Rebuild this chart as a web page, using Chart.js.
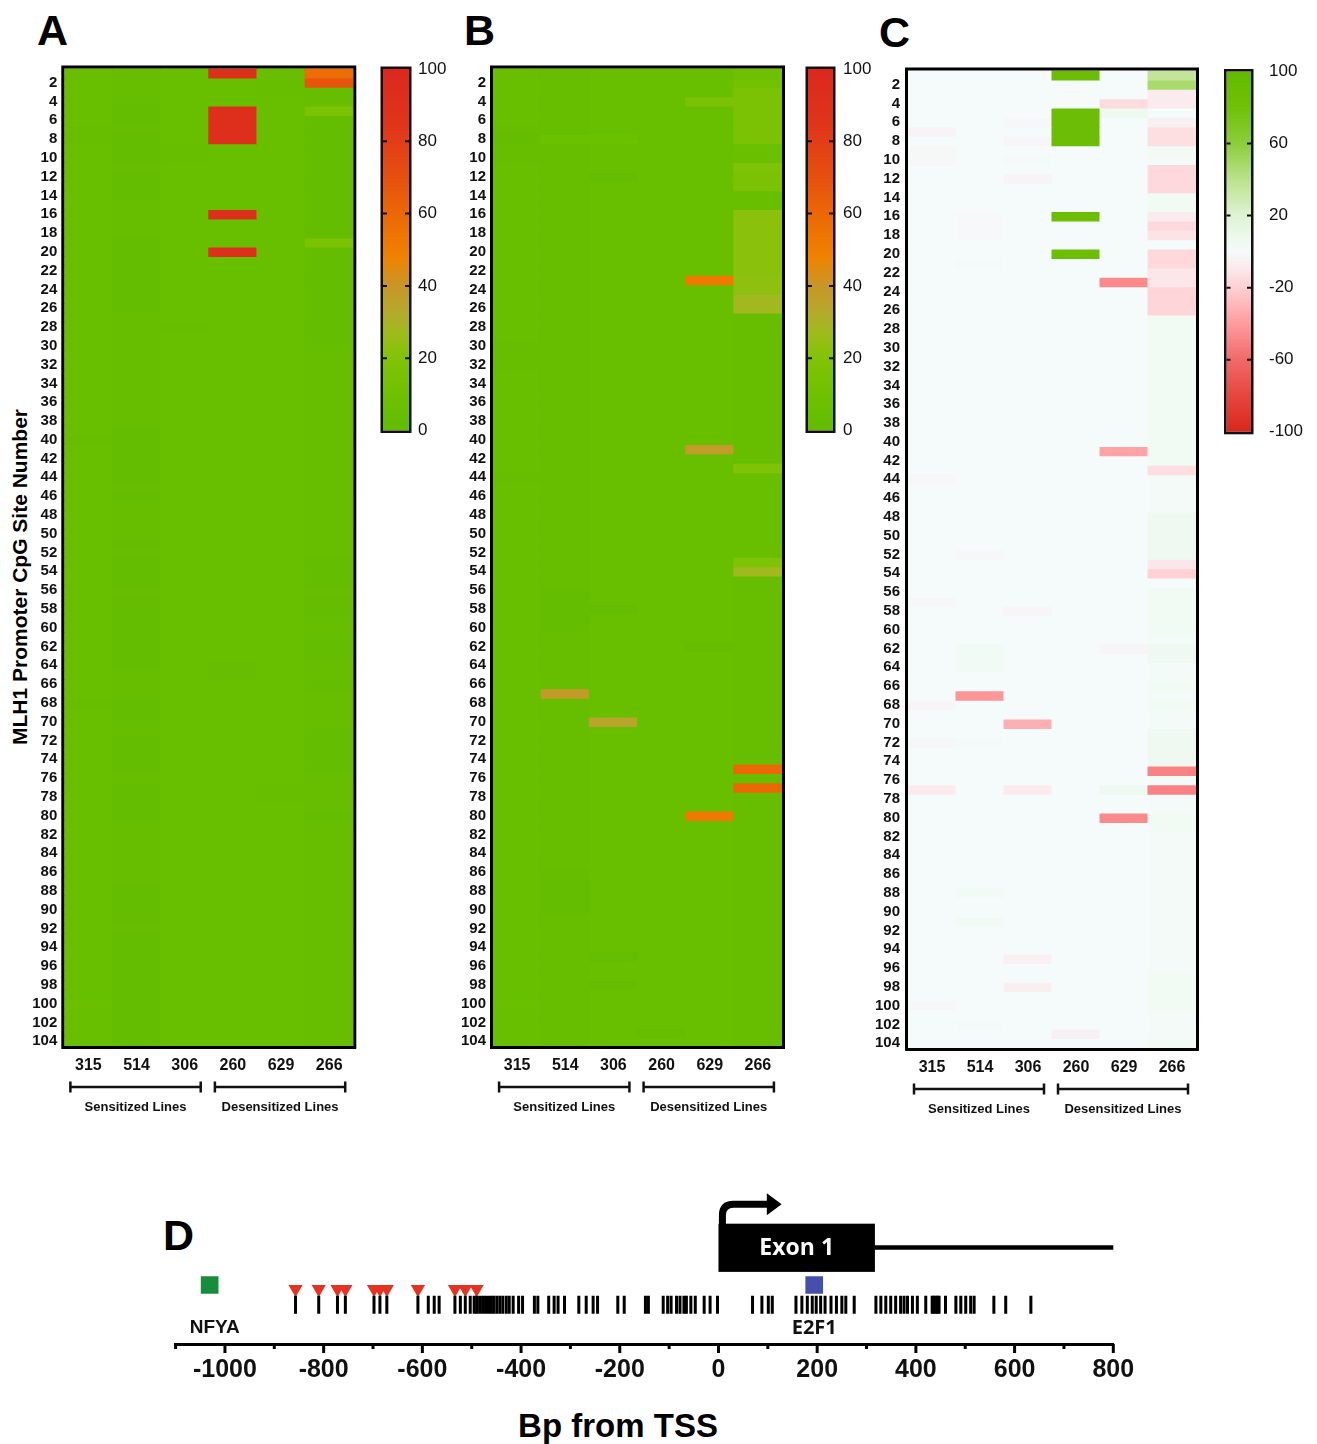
<!DOCTYPE html>
<html>
<head>
<meta charset="utf-8">
<script src="https://cdn.jsdelivr.net/npm/chart.js@4.4.0/dist/chart.umd.min.js"></script>
<style>
  body { margin: 0; background: #fff; }
  #fig { position: relative; width: 1317px; height: 1444px; overflow: hidden; font-family: "Liberation Sans", Arial, sans-serif; color: #000; }
  canvas { position: absolute; }
  .letter { position: absolute; font-weight: bold; font-size: 43px; line-height: 1; }
  .ytitle { position: absolute; left: 20px; top: 577px; transform: translate(-50%, -50%) rotate(-90deg); white-space: nowrap; font-weight: bold; font-size: 21px; }
  .xtitle { position: absolute; left: 618px; top: 1426px; transform: translate(-50%, -50%); white-space: nowrap; font-weight: bold; font-size: 33px; }
</style>
</head>
<body>
<div id="fig">
  <div class="letter" style="left:37px;top:9px">A</div>
  <div class="letter" style="left:464px;top:9px">B</div>
  <div class="letter" style="left:879px;top:11px">C</div>
  <div class="letter" style="left:163px;top:1214px">D</div>
  <div class="ytitle">MLH1 Promoter CpG Site Number</div>
  <div class="xtitle">Bp from TSS</div>

  <canvas id="heatA" width="372" height="1130" style="left:0;top:0"></canvas>
  <canvas id="barA" width="95" height="420" style="left:375px;top:40px"></canvas>
  <canvas id="heatB" width="352" height="1130" style="left:440px;top:0"></canvas>
  <canvas id="barB" width="95" height="420" style="left:800px;top:40px"></canvas>
  <canvas id="heatC" width="350" height="1132" style="left:860px;top:0"></canvas>
  <canvas id="barC" width="99" height="420" style="left:1218px;top:40px"></canvas>
  <canvas id="genome" width="1010" height="264" style="left:150px;top:1180px"></canvas>
</div>

<script>
// ---- heatmap categories / ticks ----
const lineNames = ['315', '514', '306', '260', '629', '266'];
const lineGroups = ['Sensitized Lines', 'Desensitized Lines'];
const siteTicks = [2, 4, 6, 8, 10, 12, 14, 16, 18, 20, 22, 24, 26, 28, 30, 32, 34, 36, 38, 40,
  42, 44, 46, 48, 50, 52, 54, 56, 58, 60, 62, 64, 66, 68, 70, 72, 74, 76, 78, 80,
  82, 84, 86, 88, 90, 92, 94, 96, 98, 100, 102, 104];
const methTicks = [0, 20, 40, 60, 80, 100];
const diffTicks = [-100, -60, -20, 20, 60, 100];

// ---- panel A: % methylation, CpG sites 1..104 ----
const a315 = [
  5, 5, 5, 5, 5, 5, 4, 4, 5, 5,
  5, 5, 5, 5, 5, 5, 5, 5, 5, 5,
  5, 5, 5, 5, 5, 5, 5, 5, 5, 5,
  5, 5, 5, 5, 5, 5, 5, 5, 5, 4,
  5, 5, 5, 5, 5, 5, 5, 5, 5, 5,
  5, 5, 5, 5, 5, 5, 5, 5, 5, 5,
  5, 5, 5, 5, 5, 5, 5, 4, 5, 5,
  5, 5, 5, 5, 5, 5, 5, 5, 5, 5,
  5, 5, 5, 5, 5, 5, 5, 5, 5, 5,
  5, 5, 5, 5, 5, 5, 5, 5, 5, 6,
  5, 5, 5, 5];
const a514 = [
  4, 4, 4, 2, 2, 2, 4, 2, 2, 2,
  4, 2, 2, 2, 4, 4, 4, 4, 2, 2,
  2, 2, 2, 2, 2, 2, 4, 4, 4, 4,
  4, 4, 4, 4, 4, 4, 4, 4, 2, 2,
  2, 2, 2, 2, 4, 2, 4, 4, 4, 4,
  2, 4, 2, 2, 2, 4, 2, 2, 2, 2,
  2, 2, 2, 2, 4, 4, 4, 2, 2, 2,
  4, 2, 2, 2, 2, 4, 2, 2, 2, 2,
  4, 4, 4, 4, 4, 4, 4, 2, 2, 2,
  2, 4, 3, 3, 3, 3, 3, 3, 3, 3,
  3, 3, 3, 3];
const a306 = [
  5, 5, 5, 5, 5, 5, 5, 5, 4, 4,
  5, 5, 5, 5, 5, 5, 5, 5, 5, 5,
  5, 5, 5, 5, 5, 5, 5, 4, 5, 5,
  5, 5, 5, 5, 5, 5, 5, 5, 5, 5,
  5, 5, 5, 5, 5, 5, 5, 5, 5, 5,
  5, 5, 5, 5, 5, 5, 5, 5, 5, 5,
  5, 5, 5, 5, 5, 5, 5, 5, 5, 5,
  5, 5, 5, 5, 5, 5, 5, 5, 5, 5,
  5, 5, 5, 5, 5, 5, 5, 5, 5, 5,
  5, 5, 5, 5, 5, 5, 5, 5, 5, 5,
  5, 5, 5, 5];
const a260 = [
  92, 5, 5, 5, 92, 92, 92, 92, 5, 5,
  5, 5, 5, 5, 5, 92, 5, 5, 5, 92,
  5, 5, 5, 5, 5, 5, 5, 5, 5, 5,
  5, 5, 5, 5, 5, 5, 5, 5, 5, 5,
  5, 5, 5, 5, 5, 5, 5, 5, 5, 5,
  5, 5, 5, 5, 5, 5, 5, 5, 5, 5,
  5, 5, 5, 4, 4, 5, 5, 5, 5, 5,
  5, 5, 5, 5, 5, 5, 5, 5, 5, 5,
  5, 5, 5, 5, 5, 5, 5, 5, 5, 5,
  5, 5, 5, 5, 5, 5, 5, 5, 5, 5,
  5, 5, 5, 5];
const a629 = [
  5, 4, 4, 5, 5, 5, 5, 5, 5, 5,
  5, 5, 5, 5, 5, 5, 5, 5, 5, 5,
  5, 5, 5, 5, 5, 5, 5, 5, 5, 5,
  5, 5, 5, 5, 5, 5, 5, 5, 5, 5,
  5, 5, 5, 5, 5, 5, 5, 5, 5, 5,
  5, 5, 5, 5, 5, 5, 5, 5, 5, 5,
  5, 5, 5, 5, 5, 5, 5, 5, 5, 5,
  5, 5, 5, 5, 5, 5, 4, 4, 5, 5,
  5, 5, 5, 5, 5, 5, 5, 5, 5, 5,
  5, 5, 5, 5, 5, 5, 5, 5, 5, 5,
  5, 5, 5, 5];
const a266 = [
  58, 68, 4, 4, 17, 3, 3, 3, 3, 3,
  3, 3, 3, 3, 3, 3, 3, 3, 17, 3,
  3, 3, 3, 3, 3, 3, 3, 3, 3, 3,
  4, 4, 4, 4, 4, 4, 4, 4, 4, 4,
  4, 4, 4, 4, 4, 4, 4, 4, 4, 4,
  4, 4, 2, 2, 2, 4, 2, 2, 2, 4,
  2, 2, 2, 4, 4, 2, 4, 4, 4, 4,
  2, 2, 2, 2, 2, 4, 4, 4, 4, 2,
  4, 4, 4, 4, 4, 4, 4, 4, 4, 4,
  4, 4, 4, 4, 4, 4, 4, 4, 4, 4,
  4, 4, 4, 4];

// ---- panel B: % methylation ----
const b315 = [
  5, 5, 5, 5, 5, 5, 4, 3, 4, 4,
  5, 5, 5, 5, 5, 5, 5, 5, 5, 5,
  5, 5, 5, 5, 5, 5, 5, 5, 5, 4,
  4, 4, 5, 5, 5, 5, 5, 5, 5, 5,
  5, 5, 5, 4, 5, 5, 5, 5, 5, 5,
  5, 5, 5, 5, 5, 5, 5, 5, 5, 5,
  5, 5, 5, 5, 5, 5, 5, 5, 5, 5,
  5, 5, 5, 5, 5, 5, 5, 5, 5, 5,
  5, 5, 5, 5, 5, 5, 5, 5, 5, 5,
  5, 5, 5, 5, 5, 5, 5, 5, 5, 6,
  5, 5, 5, 5];
const b514 = [
  4, 4, 4, 4, 4, 4, 4, 7, 4, 4,
  4, 4, 4, 4, 4, 4, 4, 4, 4, 4,
  4, 4, 4, 4, 4, 4, 4, 4, 4, 4,
  4, 4, 4, 4, 4, 4, 4, 4, 4, 4,
  4, 4, 4, 4, 4, 4, 4, 4, 4, 4,
  4, 4, 4, 4, 4, 3, 3, 3, 3, 3,
  4, 4, 4, 4, 4, 4, 38, 4, 4, 4,
  4, 4, 4, 4, 4, 4, 4, 4, 4, 4,
  4, 4, 4, 4, 4, 3, 3, 3, 3, 3,
  4, 4, 4, 4, 4, 4, 4, 4, 4, 4,
  4, 4, 4, 4];
const b306 = [
  5, 5, 5, 5, 5, 5, 5, 7, 5, 5,
  5, 2, 5, 5, 5, 5, 5, 5, 5, 5,
  5, 5, 5, 5, 5, 5, 5, 5, 5, 5,
  5, 5, 5, 5, 5, 5, 5, 5, 5, 5,
  5, 5, 5, 5, 5, 5, 5, 5, 5, 5,
  5, 5, 5, 5, 5, 5, 5, 2, 5, 5,
  5, 5, 5, 5, 5, 5, 5, 5, 5, 34,
  5, 5, 5, 5, 5, 5, 5, 5, 5, 5,
  5, 5, 5, 5, 5, 5, 5, 5, 5, 5,
  5, 5, 5, 5, 2, 5, 5, 2, 5, 5,
  5, 5, 5, 5];
const b260 = [
  5, 5, 5, 5, 5, 5, 5, 5, 5, 5,
  5, 5, 5, 5, 5, 5, 5, 5, 5, 5,
  5, 5, 5, 5, 5, 5, 5, 5, 5, 5,
  5, 5, 5, 5, 5, 5, 5, 5, 5, 5,
  5, 5, 5, 5, 5, 5, 5, 5, 5, 5,
  5, 5, 5, 5, 5, 5, 5, 5, 5, 5,
  5, 5, 5, 5, 5, 5, 5, 5, 5, 5,
  5, 5, 5, 5, 5, 5, 5, 5, 5, 5,
  5, 5, 5, 5, 5, 5, 5, 5, 5, 5,
  5, 5, 5, 5, 5, 5, 5, 5, 5, 5,
  5, 5, 3, 5];
const b629 = [
  5, 5, 5, 17, 5, 5, 5, 5, 5, 5,
  5, 5, 5, 5, 5, 5, 5, 5, 5, 5,
  5, 5, 52, 5, 5, 5, 5, 5, 5, 5,
  5, 5, 5, 5, 5, 5, 5, 5, 5, 5,
  38, 5, 5, 5, 5, 5, 5, 5, 5, 5,
  5, 5, 5, 5, 5, 5, 5, 5, 5, 5,
  5, 2, 5, 5, 5, 5, 5, 5, 5, 5,
  5, 5, 5, 5, 5, 5, 5, 5, 5, 52,
  5, 5, 5, 5, 5, 5, 5, 5, 5, 5,
  5, 5, 5, 5, 5, 5, 5, 5, 5, 5,
  5, 5, 5, 5];
const b266 = [
  9, 11, 17, 17, 17, 17, 17, 17, 6, 6,
  18, 17, 17, 5, 5, 22, 22, 22, 22, 22,
  22, 22, 23, 23, 28, 28, 4, 4, 4, 4,
  4, 4, 4, 4, 4, 4, 4, 4, 4, 4,
  4, 4, 18, 5, 5, 5, 5, 5, 5, 5,
  5, 5, 18, 28, 4, 4, 4, 4, 4, 4,
  4, 4, 4, 4, 4, 4, 4, 4, 4, 4,
  4, 4, 4, 4, 60, 4, 60, 4, 4, 4,
  4, 4, 4, 4, 4, 4, 4, 4, 4, 4,
  4, 4, 4, 4, 4, 4, 4, 4, 4, 4,
  4, 4, 4, 4];

// ---- panel C: difference in % methylation ----
const c315 = [
  0, 0, 0, 0, 0, 0, -4, 0, -2, -2,
  0, 0, 0, 0, 0, 0, 0, 0, 0, 0,
  0, 0, 0, 0, 0, 0, 0, 0, 0, 0,
  0, 0, 0, 0, 0, 0, 0, 0, 0, 0,
  0, 0, 0, -2, 0, 0, 0, 0, 0, 0,
  0, 0, 0, 0, 0, 0, -2, 0, 0, 0,
  0, 0, 0, 0, 0, 0, 0, -3, 0, 0,
  0, -2, 0, 0, 0, 0, -8, 0, 0, 0,
  0, 0, 0, 0, 0, 0, 0, 0, 0, 0,
  0, 0, 0, 0, 0, 0, 0, 0, 0, -2,
  0, 0, 0, 0];
const c514 = [
  0, 0, 0, 0, 0, 0, 0, 0, 0, 0,
  0, 0, 0, 0, 0, -1, -1, -1, 0, 0,
  1, 0, 0, 0, 0, 0, 0, 0, 0, 0,
  0, 0, 0, 0, 0, 0, 0, 0, 0, 0,
  0, 0, 0, 0, 0, 0, 0, 0, 0, 0,
  0, -2, 0, 0, 0, 0, 0, 0, 0, 0,
  0, 3, 3, 3, 0, 0, -42, 0, 0, 0,
  0, 2, 0, 0, 0, 0, 0, 0, 0, 0,
  0, 0, 0, 0, 0, 0, 0, 3, 0, 0,
  3, 0, 0, 0, 0, 0, 0, 0, 0, 0,
  0, 2, 0, 0];
const c306 = [
  0, 0, 0, 0, 0, -2, 0, -3, 0, 2,
  0, -4, 0, 0, 0, 0, 0, 0, 0, 0,
  0, 0, 0, 0, 0, 0, 0, 0, 0, 0,
  0, 0, 0, 0, 0, 0, 0, 0, 0, 0,
  0, 0, 0, 0, 0, 0, 0, 0, 0, 0,
  0, 0, 0, 0, 0, 0, 0, -3, 0, 0,
  0, 0, 0, 0, 0, 0, 0, 0, 0, -33,
  0, 0, 0, 0, 0, 0, -8, 0, 0, 0,
  0, 0, 0, 0, 0, 0, 0, 0, 0, 0,
  0, 0, 0, 0, -6, 0, 0, -7, 0, 0,
  0, 0, 0, 0];
const c260 = [
  88, 0, 0, 0, 88, 88, 88, 88, 0, 0,
  0, 0, 0, 0, 0, 88, 0, 0, 0, 88,
  0, 0, 0, 0, 0, 0, 0, 0, 0, 0,
  0, 0, 0, 0, 0, 0, 0, 0, 0, 0,
  0, 0, 0, 0, 0, 0, 0, 0, 0, 0,
  0, 0, 0, 0, 0, 0, 0, 0, 0, 0,
  0, 0, 0, 0, 0, 0, 0, 0, 0, 0,
  0, 0, 0, 0, 0, 0, 0, 0, 0, 0,
  0, 0, 0, 0, 0, 0, 0, 0, 0, 0,
  0, 0, 0, 0, 0, 0, 0, 0, 0, 0,
  0, 0, -5, 0];
const c629 = [
  0, 0, 0, -15, 6, 0, 0, 0, 0, 0,
  0, 0, 0, 0, 0, 0, 0, 0, 0, 0,
  0, 0, -47, 0, 0, 0, 0, 0, 0, 0,
  0, 0, 0, 0, 0, 0, 0, 0, 0, 0,
  -37, 0, 0, 0, 0, 0, 0, 0, 0, 0,
  0, 0, 0, 0, 0, 0, 0, 0, 0, 0,
  0, -3, 0, 0, 0, 0, 0, 0, 0, 0,
  0, 0, 0, 0, 0, 0, 5, 0, 0, -47,
  0, 0, 0, 0, 0, 0, 0, 0, 0, 0,
  0, 0, 0, 0, 0, 0, 0, 0, 0, 0,
  0, 0, 0, 0];
const c266 = [
  36, 48, -8, -8, 0, -6, -14, -14, 4, 2,
  -16, -16, -16, 4, 4, -8, -16, -12, 0, -16,
  -16, -10, -10, -18, -18, -18, 4, 4, 4, 4,
  4, 4, 4, 4, 4, 4, 4, 4, 4, 4,
  4, 4, -14, 2, 2, 2, 2, 5, 5, 5,
  5, 5, -10, -20, 0, 4, 4, 4, 4, 4,
  1, 5, 5, 1, 1, 4, 1, 4, 1, 1,
  5, 5, 5, 5, -50, 1, -50, 1, 1, 4,
  4, 1, 1, 1, 1, 1, 1, 1, 1, 1,
  1, 1, 1, 1, 1, 1, 4, 4, 4, 4,
  1, 1, 1, 4];

// ---- panel D: positions in bp from TSS ----
const cpgSites = [-857, -810, -772, -756, -698, -686, -672, -609, -588, -576, -566,
  -534, -523, -513, -503, -495, -490, -484, -478, -472, -466, -460, -455, -449, -443,
  -437, -430, -424, -416, -405, -397, -373, -366, -344, -333, -325, -312, -283, -268,
  -254, -245, -204, -191, -148, -142, -112, -103, -96, -85, -78, -70, -65, -56, -47,
  -29, -17, -2, 69, 88, 101, 109, 157, 169, 180, 190, 198, 207, 216, 228, 239, 250,
  258, 275, 319, 329, 339, 349, 359, 369, 376, 383, 393, 403, 420, 433, 436, 440,
  444, 447, 460, 481, 491, 501, 511, 518, 558, 582, 633];
const markedSites = [-857, -810, -772, -756, -698, -686, -672, -609, -534, -513, -490];
const nfyaSite = -1031;
const e2f1Site = 194;
const exonStart = 0;
const exonEnd = 317;
const geneEnd = 800;
const bpTicks = [-1000, -800, -600, -400, -200, 0, 200, 400, 600, 800];

// ---- colour ramps ----
const methStops = [[0, [97, 187, 0]], [5, [104, 191, 0]], [12, [114, 193, 0]], [20, [130, 195, 6]],
  [27, [158, 187, 28]], [33, [182, 168, 44]], [40, [200, 150, 40]], [48, [240, 130, 0]],
  [58, [237, 108, 4]], [70, [230, 80, 15]], [85, [223, 52, 26]], [100, [220, 40, 30]]];
const diffStops = [[-100, [218, 38, 28]], [-80, [230, 70, 62]], [-60, [242, 105, 105]],
  [-40, [255, 155, 158]], [-20, [255, 208, 212]], [-8, [250, 236, 238]], [0, [245, 250, 250]],
  [8, [236, 249, 236]], [20, [222, 243, 212]], [40, [188, 226, 140]], [60, [140, 205, 60]],
  [80, [112, 193, 8]], [100, [100, 186, 0]]];

function ramp(stops, v) {
  for (let i = 1; i < stops.length; i++) {
    if (v <= stops[i][0] || i === stops.length - 1) {
      const [v0, c0] = stops[i - 1];
      const [v1, c1] = stops[i];
      const t = Math.max(0, Math.min(1, (v - v0) / (v1 - v0)));
      return 'rgb(' + c0.map((c, k) => Math.round(c + (c1[k] - c) * t)).join(',') + ')';
    }
  }
}

const FONT = "'Liberation Sans', Arial, sans-serif";
Chart.defaults.font.family = FONT;
Chart.defaults.color = '#000';

const framePlugin = {
  id: 'frame',
  afterDatasetsDraw(chart) {
    const { ctx, chartArea: a } = chart;
    ctx.save();
    ctx.strokeStyle = '#000';
    ctx.lineWidth = 3;
    ctx.strokeRect(a.left - 1.5, a.top - 1.5, a.width + 3, a.height + 3);
    ctx.restore();
  }
};

const bracketPlugin = {
  id: 'brackets',
  afterDraw(chart) {
    const x = chart.scales.x;
    const ctx = chart.ctx;
    const yb = chart.chartArea.bottom + 41;
    ctx.save();
    ctx.strokeStyle = '#111';
    ctx.fillStyle = '#111';
    ctx.lineWidth = 2.5;
    ctx.font = 'bold 13px ' + FONT;
    ctx.textAlign = 'center';
    ctx.textBaseline = 'middle';
    lineGroups.forEach((name, g) => {
      const l = x.getPixelForValue(g * 3) - 18;
      const r = x.getPixelForValue(g * 3 + 2) + 16;
      ctx.beginPath();
      ctx.moveTo(l, yb); ctx.lineTo(r, yb);
      ctx.moveTo(l, yb - 5.5); ctx.lineTo(l, yb + 5.5);
      ctx.moveTo(r, yb - 5.5); ctx.lineTo(r, yb + 5.5);
      ctx.stroke();
      ctx.fillText(name, (l + r) / 2, yb + 20);
    });
    ctx.restore();
  }
};

function heatmap(id, cols, stops, box) {
  const sites = cols[0].map((v, i) => i + 1);
  const datasets = sites.map((s, r) => ({
    data: cols.map(() => [s - 0.5, s + 0.5]),
    backgroundColor: cols.map(c => ramp(stops, c[r]))
  }));
  return new Chart(document.getElementById(id), {
    type: 'bar',
    data: { labels: lineNames, datasets },
    options: {
      responsive: false,
      animation: false,
      events: [],
      layout: { padding: { left: 0, right: box.right, top: box.top, bottom: 0 } },
      plugins: { legend: { display: false }, tooltip: { enabled: false } },
      datasets: { bar: { grouped: false, barPercentage: 1, categoryPercentage: 1, borderWidth: 0, inflateAmount: 0.5 } },
      scales: {
        x: {
          grid: { display: false, drawTicks: false },
          border: { display: false },
          ticks: { font: { size: 16, weight: 'bold' }, color: '#111', padding: 10 },
          afterFit: s => { s.height = 84; }
        },
        y: {
          type: 'linear', min: 0.5, max: 104.5, reverse: true,
          grid: { display: false, drawTicks: false },
          border: { display: false },
          afterBuildTicks: s => { s.ticks = siteTicks.map(v => ({ value: v })); },
          ticks: { font: { size: 15, weight: 'bold' }, color: '#111', padding: box.labelPad, autoSkip: false },
          afterFit: s => { s.width = box.yWidth; }
        }
      }
    },
    plugins: [framePlugin, bracketPlugin]
  });
}

const barFramePlugin = {
  id: 'barFrame',
  afterDatasetsDraw(chart) {
    const { ctx, chartArea: a } = chart;
    const y = chart.scales.y;
    ctx.save();
    ctx.strokeStyle = '#111';
    ctx.lineWidth = 2.5;
    ctx.strokeRect(a.left - 1.25, a.top - 1.25, a.width + 2.5, a.height + 2.5);
    ctx.lineWidth = 2;
    y.ticks.forEach(t => {
      if (t.value === y.min || t.value === y.max) return;
      const py = y.getPixelForValue(t.value);
      ctx.beginPath();
      ctx.moveTo(a.left, py); ctx.lineTo(a.left + 4, py);
      ctx.moveTo(a.right - 4, py); ctx.lineTo(a.right, py);
      ctx.stroke();
    });
    ctx.restore();
  }
};

function colorBar(id, stops, ticks, box) {
  const lo = ticks[0], hi = ticks[ticks.length - 1];
  return new Chart(document.getElementById(id), {
    type: 'bar',
    data: {
      labels: [''],
      datasets: [{
        data: [[lo, hi]],
        borderWidth: 0,
        barPercentage: 1,
        categoryPercentage: 1,
        backgroundColor: c => {
          const chart = c.chart;
          if (!chart.chartArea) return null;
          const y = chart.scales.y;
          const g = chart.ctx.createLinearGradient(0, y.getPixelForValue(lo), 0, y.getPixelForValue(hi));
          stops.forEach(([v, rgb]) => g.addColorStop((v - lo) / (hi - lo), 'rgb(' + rgb.join(',') + ')'));
          return g;
        }
      }]
    },
    options: {
      responsive: false,
      animation: false,
      events: [],
      layout: { padding: { left: box.left, right: 0, top: box.top, bottom: box.bottom } },
      plugins: { legend: { display: false }, tooltip: { enabled: false } },
      scales: {
        x: { display: false },
        y: {
          position: 'right', min: lo, max: hi,
          grid: { display: false, drawTicks: false },
          border: { display: false },
          afterBuildTicks: s => { s.ticks = ticks.map(v => ({ value: v })); },
          ticks: { font: { size: 17 }, color: '#111', padding: box.labelPad, callback: v => String(v) },
          afterFit: s => { s.width = box.yWidth; }
        }
      }
    },
    plugins: [barFramePlugin]
  });
}

heatmap('heatA', [a315, a514, a306, a260, a629, a266], methStops, { top: 68.5, right: 18.7, yWidth: 64.3, labelPad: 7 });
heatmap('heatB', [b315, b514, b306, b260, b629, b266], methStops, { top: 68.5, right: 10, yWidth: 53, labelPad: 7 });
heatmap('heatC', [c315, c514, c306, c260, c629, c266], diffStops, { top: 70.5, right: 14, yWidth: 48, labelPad: 8 });

colorBar('barA', methStops, methTicks, { left: 8, top: 29, bottom: 29.5, yWidth: 61, labelPad: 9 });
colorBar('barB', methStops, methTicks, { left: 8, top: 29, bottom: 29.5, yWidth: 62, labelPad: 10 });
colorBar('barC', diffStops, diffTicks, { left: 8.5, top: 31.5, bottom: 28, yWidth: 66, labelPad: 18 });

// ---- panel D ----
const genePlugin = {
  id: 'gene',
  beforeDatasetsDraw(chart) {
    const { ctx } = chart;
    const x = chart.scales.x, y = chart.scales.y;
    const x0 = x.getPixelForValue(exonStart);
    const x1 = x.getPixelForValue(exonEnd);
    const x2 = x.getPixelForValue(geneEnd);
    const top = y.getPixelForValue(122.3), bot = y.getPixelForValue(73.3), mid = y.getPixelForValue(98);
    ctx.save();
    ctx.fillStyle = '#000';
    ctx.strokeStyle = '#000';
    ctx.lineWidth = 4.5;
    ctx.beginPath(); ctx.moveTo(x1, mid); ctx.lineTo(x2, mid); ctx.stroke();
    ctx.fillRect(x0, top, x1 - x0, bot - top);
    // TSS arrow
    const sx = x.getPixelForValue(8), hx = x.getPixelForValue(104), tx = x.getPixelForValue(128);
    const arm = y.getPixelForValue(142);
    ctx.lineWidth = 7;
    ctx.beginPath();
    ctx.moveTo(sx, top + 1);
    ctx.lineTo(sx, arm + 11);
    ctx.quadraticCurveTo(sx, arm, sx + 11, arm);
    ctx.lineTo(hx, arm);
    ctx.stroke();
    ctx.beginPath();
    ctx.moveTo(hx - 3, arm - 11); ctx.lineTo(tx, arm); ctx.lineTo(hx - 3, arm + 11); ctx.closePath();
    ctx.fill();
    // labels
    ctx.textAlign = 'center';
    ctx.textBaseline = 'middle';
    ctx.fillStyle = '#fff';
    ctx.font = "bold 23px 'Open Sans', sans-serif";
    ctx.fillText('Exon 1', (x0 + x1) / 2, mid + 1);
    ctx.fillStyle = '#111';
    ctx.font = 'bold 19px ' + FONT;
    ctx.fillText('NFYA', x.getPixelForValue(nfyaSite) + 5, y.getPixelForValue(16));
    ctx.font = "bold 20px 'Open Sans', sans-serif";
    ctx.fillText('E2F1', x.getPixelForValue(e2f1Site), y.getPixelForValue(16));
    ctx.restore();
  },
  afterDraw(chart) {
    const x = chart.scales.x, ctx = chart.ctx, yb = chart.chartArea.bottom;
    ctx.save();
    ctx.strokeStyle = '#000';
    ctx.lineWidth = 3;
    for (let v = x.min; v <= x.max; v += 100) {
      const px = x.getPixelForValue(v);
      const len = bpTicks.includes(v) ? 9 : 5;
      ctx.beginPath(); ctx.moveTo(px, yb); ctx.lineTo(px, yb + len); ctx.stroke();
    }
    ctx.restore();
  }
};

new Chart(document.getElementById('genome'), {
  type: 'scatter',
  data: {
    datasets: [
      { data: cpgSites.map(v => ({ x: v, y: 40 })), pointStyle: 'line', rotation: 90, radius: 9, borderWidth: 3, borderColor: '#000' },
      { data: markedSites.map(v => ({ x: v, y: 55.8 })), pointStyle: 'triangle', rotation: 180, radius: 8.2, borderWidth: 0, backgroundColor: '#e63222' },
      { data: [{ x: nfyaSite, y: 60 }], pointStyle: 'rect', radius: 12.5, borderWidth: 0, backgroundColor: '#178c3d' },
      { data: [{ x: e2f1Site, y: 60 }], pointStyle: 'rect', radius: 12.5, borderWidth: 0, backgroundColor: '#4650aa' }
    ]
  },
  options: {
    responsive: false,
    animation: false,
    events: [],
    layout: { padding: { left: 25.6, right: 46.7, top: 10, bottom: 0 } },
    plugins: { legend: { display: false }, tooltip: { enabled: false } },
    scales: {
      x: {
        type: 'linear', min: -1100, max: 800,
        grid: { display: false, drawTicks: false },
        border: { display: true, width: 3, color: '#000' },
        afterBuildTicks: s => { s.ticks = bpTicks.map(v => ({ value: v })); },
        ticks: { font: { size: 25, weight: 'bold' }, color: '#111', padding: 11, autoSkip: false, maxRotation: 0, callback: v => String(v) },
        afterFit: s => { s.height = 100; }
      },
      y: { display: false, min: 0, max: 154 }
    }
  },
  plugins: [genePlugin]
});
</script>
</body>
</html>
